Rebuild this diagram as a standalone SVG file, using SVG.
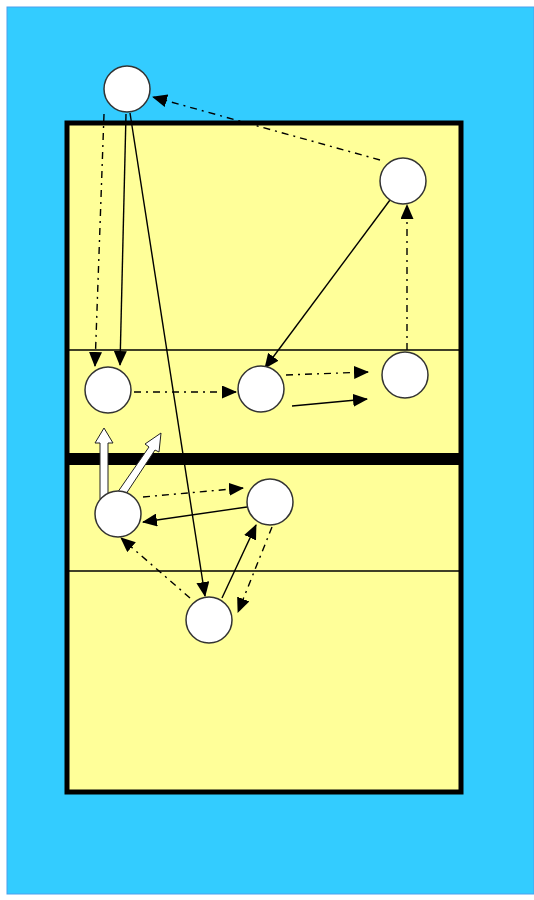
<svg xmlns="http://www.w3.org/2000/svg" width="534" height="900" viewBox="0 0 534 900">
<style>
.p{fill:#fff;stroke:#333;stroke-width:1.5}
.s{fill:none;stroke:#000;stroke-width:1.4;marker-end:url(#ah)}
.d{fill:none;stroke:#000;stroke-width:1.4;stroke-dasharray:7 5 2 5;marker-end:url(#ah)}
.w{fill:#fff;stroke:#222;stroke-width:1}
</style>
<defs>
<marker id="ah" markerUnits="userSpaceOnUse" markerWidth="15" markerHeight="13" refX="14" refY="6.5" orient="auto">
<path d="M0,0 L15,6.5 L0,13 Z" fill="#000"/>
</marker>
</defs>
<rect x="0" y="0" width="534" height="900" fill="#fff"/>
<rect x="7" y="7" width="527" height="887" fill="#33CCFF" stroke="#4aa0ee" stroke-width="1"/>
<g id="court">
<rect x="67" y="123" width="394" height="669" fill="#FFFF99" stroke="#000" stroke-width="5"/>
<line x1="67" y1="350" x2="461" y2="350" stroke="#000" stroke-width="1.3"/>
<line x1="67" y1="571" x2="461" y2="571" stroke="#000" stroke-width="1.3"/>
<rect id="net" x="67" y="453" width="394" height="12" fill="#000"/>
</g>
<g id="connectors">
<line class="d" x1="380" y1="160" x2="153" y2="97"/>
<line class="d" x1="104" y1="114" x2="95" y2="366"/>
<line class="s" x1="126" y1="114" x2="120" y2="365"/>
<line class="s" x1="130" y1="113" x2="205" y2="596"/>
<line class="s" x1="390" y1="200" x2="265" y2="368"/>
<line class="d" x1="134" y1="392" x2="236" y2="392"/>
<line class="d" x1="286" y1="375" x2="368" y2="372"/>
<line class="s" x1="292" y1="406" x2="367" y2="399"/>
<line class="d" x1="407" y1="350" x2="407" y2="205"/>
<line class="d" x1="143" y1="497" x2="243" y2="488"/>
<line class="s" x1="247" y1="507" x2="143" y2="522"/>
<line class="d" x1="190" y1="598" x2="121" y2="538"/>
<line class="s" x1="222" y1="598" x2="256" y2="525"/>
<line class="d" x1="272" y1="527" x2="238" y2="612"/>
<path class="w" d="M100,499 L100,443 L95,443 L104,428 L113,443 L108,443 L108,499 Z"/>
<path class="w" d="M115,496 L149,447 L145,444 L161,433 L159,452 L155,450 L122,500 Z"/>
</g>
<g id="p1"><circle class="p" cx="127" cy="89" r="23"/></g>
<g id="p2"><circle class="p" cx="403" cy="181" r="23"/></g>
<g id="p3"><circle class="p" cx="108" cy="390" r="23"/></g>
<g id="p4"><circle class="p" cx="261" cy="389" r="23"/></g>
<g id="p5"><circle class="p" cx="405" cy="375" r="23"/></g>
<g id="p6"><circle class="p" cx="118" cy="514" r="23"/></g>
<g id="p7"><circle class="p" cx="270" cy="502" r="23"/></g>
<g id="p8"><circle class="p" cx="209" cy="620" r="23"/></g>
</svg>
